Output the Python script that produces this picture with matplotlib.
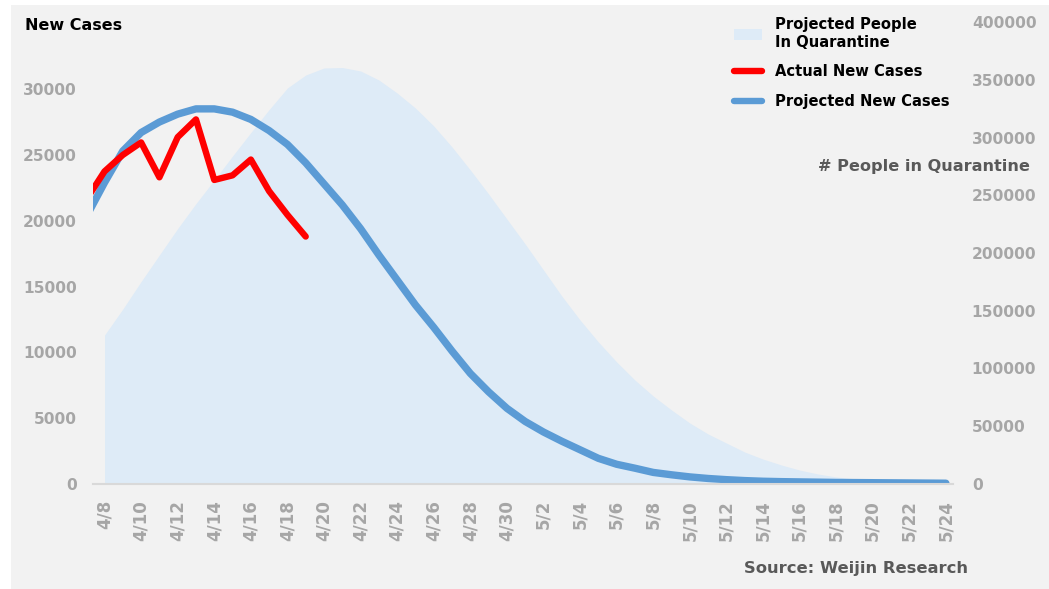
import numpy as np
import pandas as pd
import matplotlib
matplotlib.use("Agg")
import matplotlib.pyplot as plt
from matplotlib.lines import Line2D
from matplotlib.patches import Patch, Rectangle

# days shown on the category axis (first day 4/7 is cut off at the left edge)
days = pd.date_range("2020-04-07", "2020-05-24")
day_labels = [f"{d.month}/{d.day}" for d in days]

# Projected New Cases (left axis), 4/7 .. 5/24
projected_cases = [20300, 22900, 25300, 26700, 27500, 28100, 28500, 28500, 28250, 27700,
                   26850, 25800, 24400, 22800, 21200, 19400, 17400, 15500, 13600, 11900,
                   10100, 8400, 7000, 5750, 4750, 3950, 3250, 2600, 1950, 1500,
                   1200, 880, 700, 540, 420, 330, 260, 210, 180, 160,
                   140, 120, 110, 100, 90, 80, 70, 60]

# Actual New Cases (left axis), 4/7 .. 4/19
actual_cases = [21600, 23750, 25000, 25950, 23300, 26350, 27700, 23100, 23450, 24650,
                22250, 20450, 18800]

# Projected People In Quarantine (right axis), 4/8 .. 5/24
quarantine = [129000, 151500, 175300, 198300, 221200, 242800, 263200, 284000, 304300, 324200,
              342900, 354100, 360200, 360600, 357600, 349800, 338500, 325500, 310000, 291800,
              271900, 251100, 229400, 207800, 185300, 162800, 142000, 123000, 105700, 90000,
              76200, 64100, 52800, 43300, 35500, 27700, 21600, 16500, 12100, 8700,
              6100, 4300, 3000, 2200, 1300, 900, 400]

left_ticks = [0, 5000, 10000, 15000, 20000, 25000, 30000]
right_ticks = [0, 50000, 100000, 150000, 200000, 250000, 300000, 350000, 400000]

BG = "#f2f2f2"
TICK_GRAY = "#a6a6a6"
DARK_GRAY = "#595959"
AREA = "#deebf7"
BLUE = "#5b9bd5"
RED = "#ff0000"

W, H = 1049, 589
fig = plt.figure(figsize=(W / 100, H / 100), dpi=100)
fig.patch.set_facecolor("white")
fig.patches.append(Rectangle((11 / W, 0), 1 - 11 / W, 1 - 5 / H, transform=fig.transFigure,
                             facecolor=BG, edgecolor="none", zorder=-10))

ax = fig.add_axes([93 / W, 1 - 484 / H, (953 - 93) / W, (484 - 22) / H])
ax2 = ax.twinx()

x_all = np.arange(len(days)) - 1
x_area = np.arange(len(quarantine))
x_actual = np.arange(len(actual_cases)) - 1

# area on secondary axis
ax2.fill_between(x_area, quarantine, 0, color=AREA, linewidth=0)
ax2.set_ylim(0, 400000)
ax2.set_yticks(right_ticks)
ax2.set_yticklabels([str(t) for t in right_ticks])

# lines on primary axis
ax.plot(x_all, projected_cases, color=BLUE, linewidth=5.3, solid_capstyle="round",
        solid_joinstyle="round")
ax.plot(x_actual, actual_cases, color=RED, linewidth=4.6, solid_capstyle="round",
        solid_joinstyle="round")
ax.set_ylim(0, 35100)
ax.set_yticks(left_ticks)
ax.set_yticklabels([str(t) for t in left_ticks])

ax.set_xlim(-0.63, 46.39)
ticks = x_all[1::2]
ax.set_xticks(ticks)
ax.set_xticklabels(day_labels[1::2], rotation=90)

ax.set_zorder(ax2.get_zorder() + 1)
ax.patch.set_visible(False)

for a in (ax, ax2):
    for s in a.spines.values():
        s.set_visible(False)
ax.spines["bottom"].set_visible(True)
ax.spines["bottom"].set_color("#d9d9d9")
ax.spines["bottom"].set_linewidth(1.5)

ax.tick_params(axis="y", length=0, colors=TICK_GRAY, labelsize=11.2, pad=11.5)
ax.tick_params(axis="x", length=0, colors=TICK_GRAY, labelsize=12, pad=11.5)
ax2.tick_params(axis="y", length=0, colors=TICK_GRAY, labelsize=11.2, pad=13.5)
for lab in ax.get_xticklabels() + ax.get_yticklabels() + ax2.get_yticklabels():
    lab.set_fontweight("bold")

# titles and notes
fig.text(25 / W, 1 - 26 / H, "New Cases", fontsize=11.5, fontweight="bold",
         color="black", ha="left", va="center")
fig.text(1030 / W, 1 - 167 / H, "# People in Quarantine", fontsize=11.6, fontweight="bold",
         color=DARK_GRAY, ha="right", va="center")
fig.text(968 / W, 1 - 568 / H, "Source: Weijin Research", fontsize=11.8, fontweight="bold",
         color=DARK_GRAY, ha="right", va="center")

handles = [Patch(facecolor=AREA, edgecolor="none"),
           Line2D([], [], color=RED, linewidth=4.6, solid_capstyle="round"),
           Line2D([], [], color=BLUE, linewidth=4.6, solid_capstyle="round")]
labels = ["Projected People\nIn Quarantine", "Actual New Cases", "Projected New Cases"]
leg = fig.legend(handles, labels, loc="upper left", bbox_to_anchor=(727 / W, 1 - 10 / H),
                 frameon=False, borderpad=0, handlelength=1.9, handletextpad=0.85,
                 labelspacing=1.0, prop={"weight": "bold", "size": 10.6})

fig.savefig("out.png", dpi=100, facecolor=fig.get_facecolor())
